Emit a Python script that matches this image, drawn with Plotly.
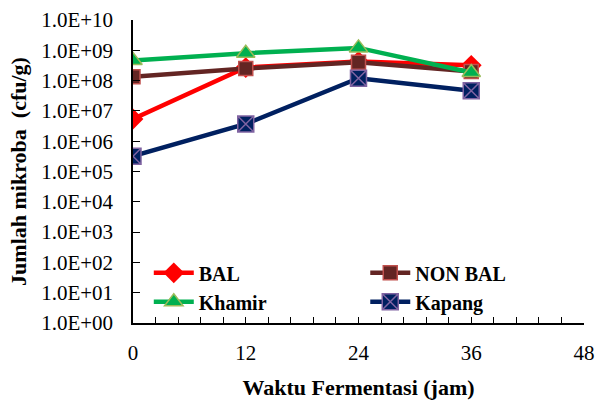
import plotly.graph_objects as go

hours = [0, 12, 24, 36]
bal = [5.4e6, 2.7e8, 4.3e8, 3.2e8]
non_bal = [1.35e8, 2.5e8, 4.0e8, 2.0e8]
khamir = [4.6e8, 8.0e8, 1.2e9, 1.85e8]
kapang = [3.2e5, 3.7e6, 1.2e8, 4.6e7]

y_tickvals = [10 ** i for i in range(0, 11)]
y_ticktext = ["1.0E+%02d" % i for i in range(0, 11)]
x_tickvals = [0, 12, 24, 36, 48]
x_ticktext = ["0", "12", "24", "36", "48"]

font = "Times New Roman, Liberation Serif, DejaVu Serif, serif"

fig = go.Figure()
fig.add_trace(go.Scatter(x=hours, y=bal, name="BAL", mode="lines+markers", legend="legend",
                         line=dict(color="#ff0000", width=4.5),
                         marker=dict(symbol="diamond", size=16, color="#ff0000")))
fig.add_trace(go.Scatter(x=hours, y=non_bal, name="NON BAL", mode="lines+markers", legend="legend2",
                         line=dict(color="#632523", width=4.5),
                         marker=dict(symbol="square", size=14, color="#632523",
                                     line=dict(color="#c0504d", width=1.5))))
fig.add_trace(go.Scatter(x=hours, y=khamir, name="Khamir", mode="lines+markers", legend="legend",
                         line=dict(color="#00b050", width=4.5),
                         marker=dict(symbol="triangle-up", size=16, color="#00b050",
                                     line=dict(color="#9bbb59", width=1.5))))
fig.add_trace(go.Scatter(x=hours, y=kapang, name="Kapang", mode="lines+markers", legend="legend2",
                         line=dict(color="#002060", width=4.5),
                         marker=dict(symbol="square-x", size=16, color="#002060",
                                     line=dict(color="#8064a2", width=1.5))))

legend_font = dict(family=font, size=20, color="black", weight="bold")
fig.update_layout(
    width=595, height=400,
    margin=dict(l=133, r=11, t=20, b=77),
    paper_bgcolor="white", plot_bgcolor="white",
    font=dict(family=font, size=21, color="black"),
    showlegend=True,
    legend=dict(x=0.035, y=0.23, xanchor="left", yanchor="top", font=legend_font,
                bgcolor="rgba(0,0,0,0)", itemwidth=40, tracegroupgap=0),
    legend2=dict(x=0.515, y=0.23, xanchor="left", yanchor="top", font=legend_font,
                 bgcolor="rgba(0,0,0,0)", itemwidth=40, tracegroupgap=0),
    xaxis=dict(range=[0, 48], tickmode="array", tickvals=x_tickvals, ticktext=x_ticktext,
               automargin=False,
               showgrid=False, zeroline=False, showline=True, linecolor="black", linewidth=1.5,
               ticks="inside", ticklen=6, tickcolor="black", tickfont=dict(family=font, size=21),
               ticklabelstandoff=10,
               minor=dict(ticks="inside", dtick=2.4, tick0=0, ticklen=6, tickcolor="black", showgrid=False),
               title=dict(text="Waktu Fermentasi (jam)", font=dict(family=font, size=22, weight="bold"), standoff=16)),
    yaxis=dict(type="log", range=[0, 10], tickmode="array", tickvals=y_tickvals, ticktext=y_ticktext,
               automargin=False,
               showgrid=False, zeroline=False, showline=True, linecolor="black", linewidth=1.5,
               ticks="inside", ticklen=7, tickcolor="black", tickfont=dict(family=font, size=21),
               ticklabelstandoff=14,
               title=dict(text="Jumlah mikroba  (cfu/g)", font=dict(family=font, size=22, weight="bold"), standoff=8)),
)

fig.write_html("out.html")
